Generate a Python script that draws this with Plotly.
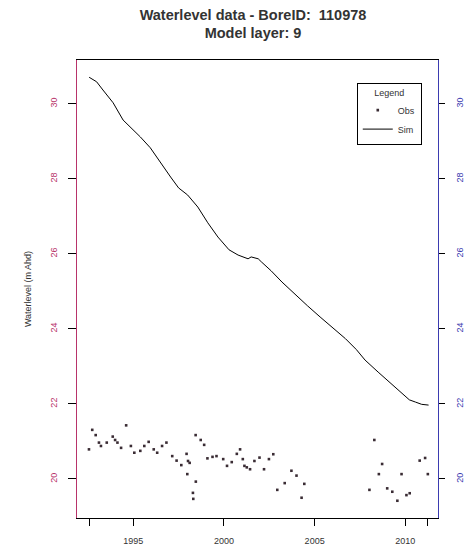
import plotly.graph_objects as go

# simulated water level (m AHD)
sim_year = [1992.57, 1992.98, 1993.33, 1993.89, 1994.44, 1994.83, 1995.39, 1995.94,
            1996.50, 1997.06, 1997.50, 1998.00, 1998.56, 1999.11, 1999.67, 2000.28,
            2000.78, 2001.33, 2001.50, 2001.89, 2002.06, 2002.60, 2003.20, 2003.90,
            2004.60, 2005.30, 2006.00, 2006.70, 2007.30, 2007.78, 2008.50, 2009.28,
            2009.80, 2010.22, 2010.56, 2010.90, 2011.28]
sim_level = [30.71, 30.59, 30.37, 30.03, 29.57, 29.39, 29.12, 28.83,
             28.43, 28.05, 27.76, 27.57, 27.25, 26.83, 26.45, 26.11,
             25.97, 25.87, 25.92, 25.87, 25.79, 25.55, 25.25, 24.93,
             24.62, 24.32, 24.03, 23.74, 23.45, 23.17, 22.85, 22.51,
             22.28, 22.11, 22.05, 21.99, 21.97]

# observed water level
obs_year = [1992.56, 1992.74, 1992.93, 1993.11, 1993.22, 1993.54, 1993.87, 1994.00,
            1994.13, 1994.33, 1994.61, 1994.87, 1995.06, 1995.39, 1995.61, 1995.85,
            1996.13, 1996.32, 1996.59, 1996.83, 1997.15, 1997.39, 1997.65, 1997.94,
            1997.98, 1998.02, 1998.11, 1998.29, 1998.31, 1998.44, 1998.45, 1998.72,
            1998.91, 1999.09, 1999.37, 1999.59, 1999.96, 2000.17, 2000.43, 2000.71,
            2000.89, 2001.04, 2001.13, 2001.26, 2001.44, 2001.68, 2001.96, 2002.21,
            2002.48, 2002.72, 2002.94, 2003.35, 2003.72, 2004.00, 2004.28, 2004.43,
            2008.02, 2008.29, 2008.54, 2008.72, 2009.00, 2009.28, 2009.56, 2009.79,
            2010.06, 2010.24, 2010.79, 2011.09, 2011.24]
obs_level = [20.79, 21.31, 21.17, 20.97, 20.88, 20.97, 21.13, 21.04,
             20.97, 20.83, 21.43, 20.88, 20.70, 20.75, 20.88, 20.99,
             20.79, 20.70, 20.88, 20.97, 20.61, 20.49, 20.37, 20.67,
             20.13, 20.48, 20.43, 19.63, 19.47, 21.17, 19.93, 21.04,
             20.91, 20.55, 20.59, 20.61, 20.53, 20.35, 20.45, 20.67,
             20.79, 20.53, 20.35, 20.31, 20.26, 20.48, 20.57, 20.26,
             20.53, 20.66, 19.71, 19.89, 20.22, 20.09, 19.50, 19.87,
             19.71, 21.04, 20.13, 20.40, 19.75, 19.66, 19.42, 20.13,
             19.57, 19.62, 20.49, 20.56, 20.13]

x_ticks = [1992.6, 1995, 2000, 2005, 2010, 2011.2]
x_labels = ["", "1995", "2000", "2005", "2010", ""]
y_ticks = [20, 22, 24, 26, 28, 30]

font = "Liberation Sans, Arial, sans-serif"
left_col = "#b8336a"
right_col = "#3b3bb0"

fig = go.Figure()
fig.add_trace(go.Scatter(x=obs_year, y=obs_level, mode="markers", name="Obs",
                         marker=dict(symbol="square", size=2.6, color="#3a2c34")))
fig.add_trace(go.Scatter(x=sim_year, y=sim_level, mode="lines", name="Sim",
                         line=dict(color="black", width=1)))
fig.add_trace(go.Scatter(x=[sim_year[0]], y=[sim_level[0]], yaxis="y2", mode="markers",
                         marker=dict(opacity=0), showlegend=False, hoverinfo="skip"))

fig.update_layout(
    width=468, height=555,
    margin=dict(l=77, r=30, t=60, b=37),
    paper_bgcolor="white", plot_bgcolor="white",
    font=dict(family=font, size=9, color="#333333"),
    title=dict(text="<b>Waterlevel data - BoreID:  110978<br>Model layer: 9</b>",
               x=253 / 468, xanchor="center", xref="container",
               y=1 - 19.5 / 555, yanchor="middle",
               font=dict(size=14.5, color="#333333")),
    showlegend=True,
    legend=dict(x=0.775, y=0.95, xanchor="left", yanchor="top",
                bordercolor="black", borderwidth=1, bgcolor="white",
                title=dict(text="Legend", side="top center", font=dict(size=9)),
                font=dict(size=9), itemwidth=30, tracegroupgap=0),
    xaxis=dict(range=[1991.9, 2011.8], tickvals=x_ticks, ticktext=x_labels,
               showgrid=False, zeroline=False, showline=True, linecolor="black",
               linewidth=1, mirror=True, ticks="outside", ticklen=7,
               tickcolor="black", automargin=False, ticklabelstandoff=7,
               tickfont=dict(size=9, color="#333333")),
    yaxis=dict(range=[18.96, 31.17], tickvals=y_ticks, showgrid=False, zeroline=False,
               showline=True, linecolor=left_col, linewidth=1, ticks="outside",
               ticklen=8, tickcolor="black", tickangle=-90, automargin=False,
               ticklabelstandoff=7, tickfont=dict(size=9, color=left_col),
               title=dict(text="Waterlevel (m Ahd)", standoff=16,
                          font=dict(size=9, color="#333333"))),
    yaxis2=dict(range=[18.96, 31.17], tickvals=y_ticks, overlaying="y", side="right",
                anchor="x", showgrid=False, zeroline=False, showline=True,
                linecolor=right_col, linewidth=1, ticks="outside", ticklen=6,
                tickcolor="black", tickangle=-90, automargin=False,
                ticklabelstandoff=7, tickfont=dict(size=9, color=right_col)),
)

fig.write_html("out.html", config={"displayModeBar": False},
               post_script="document.body.style.margin='0';")
